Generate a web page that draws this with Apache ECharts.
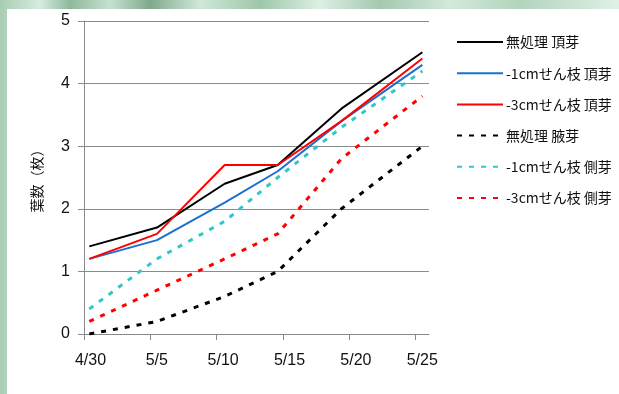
<!DOCTYPE html>
<html>
<head>
<meta charset="utf-8">
<script src="https://cdn.jsdelivr.net/npm/echarts@6/dist/echarts.min.js"></script>
<style>
  html, body { margin: 0; padding: 0; }
  #wrap { position: relative; width: 619px; height: 394px; overflow: hidden;
    background:
      linear-gradient(90deg, #a9ccb3 0px, #d6ece0 40px, #8fb89c 70px, #c6e2cf 110px, #7fa98d 150px, #cfe8d7 200px,
        #9fc6ab 260px, #ddf0e4 320px, #a4c8b0 380px, #d2ead9 450px, #b3d4bd 520px, #dff1e6 619px); }
  #paper { position: absolute; left: 7px; top: 9px; right: 0; bottom: 0; background: #ffffff; }
  #chart { position: absolute; left: 0; top: 0; width: 619px; height: 394px; }
</style>
</head>
<body>
<div id="wrap">
  <div id="paper"></div>
  <div id="chart"></div>
</div>
<script>
// Survey dates: days after 4/30 on which leaves were counted
const surveyDays = [0.4, 5.5, 10.6, 14.6, 19.4, 25.5];
// Axis tick labels, one per 5 days
const tickLabels = ['4/30', '5/5', '5/10', '5/15', '5/20', '5/25'];

// Leaf counts per treatment
const noneApical   = [1.4, 1.7, 2.4, 2.7, 3.6, 4.5];
const cut1Apical   = [1.2, 1.5, 2.1, 2.6, 3.4, 4.3];
const cut3Apical   = [1.2, 1.6, 2.7, 2.7, 3.4, 4.4];
const noneAxillary = [0.0, 0.2, 0.6, 1.0, 2.0, 3.0];
const cut1Lateral  = [0.4, 1.2, 1.8, 2.5, 3.3, 4.2];
const cut3Lateral  = [0.2, 0.7, 1.2, 1.6, 2.8, 3.8];

const seriesDefs = [
  { name: '無処理 頂芽',      values: noneApical,   color: '#000000', dashed: false },
  { name: '-1cmせん枝 頂芽', values: cut1Apical,   color: '#1b6fd3', dashed: false },
  { name: '-3cmせん枝 頂芽', values: cut3Apical,   color: '#ff0000', dashed: false },
  { name: '無処理 腋芽',      values: noneAxillary, color: '#000000', dashed: true },
  { name: '-1cmせん枝 側芽', values: cut1Lateral,  color: '#33c6c9', dashed: true },
  { name: '-3cmせん枝 側芽', values: cut3Lateral,  color: '#ff0000', dashed: true }
];

const chart = echarts.init(document.getElementById('chart'), null, { renderer: 'canvas' });

const series = seriesDefs.map(function (d) {
  return {
    name: d.name,
    type: 'line',
    data: d.values.map(function (v, i) { return [surveyDays[i], v]; }),
    symbol: 'none',
    color: d.color,
    lineStyle: d.dashed
      ? { color: d.color, width: 3, type: [5, 7] }
      : { color: d.color, width: 2, type: 'solid' },
    z: d.dashed ? 2 : 3,
    animation: false
  };
});

chart.setOption({
  backgroundColor: 'transparent',
  animation: false,
  grid: { left: 84, right: 190, top: 21, bottom: 60 },
  legend: {
    orient: 'vertical',
    left: 456,
    top: 35,
    padding: 0,
    itemWidth: 46,
    itemHeight: 14,
    itemGap: 17.2,
    itemStyle: { opacity: 0 },
    textStyle: { fontFamily: 'Noto Sans CJK JP', fontSize: 14, lineHeight: 14, color: '#111', padding: [0, 0, 0, -2] },
    data: seriesDefs.map(function (d) { return d.name; })
  },
  xAxis: {
    type: 'value',
    min: 0,
    max: 26,
    interval: 5,
    axisLine: { show: true, lineStyle: { color: '#8a8a8a', width: 1 } },
    axisTick: { show: true, length: 6, lineStyle: { color: '#8a8a8a' } },
    splitLine: { show: false },
    axisLabel: {
      margin: 19,
      fontFamily: 'Liberation Sans',
      fontSize: 16,
      color: '#111',
      padding: [0, 0, 0, 13],
      showMaxLabel: false,
      formatter: function (v) { return tickLabels[Math.round(v / 5)] || ''; }
    }
  },
  yAxis: {
    type: 'value',
    min: 0,
    max: 5,
    interval: 1,
    name: '葉数（枚）',
    nameLocation: 'middle',
    nameRotate: 90,
    nameGap: 40,
    nameTextStyle: { fontFamily: 'Noto Sans CJK JP', fontSize: 14, color: '#111' },
    axisLine: { show: true, lineStyle: { color: '#8a8a8a', width: 1 } },
    axisTick: { show: true, length: 6, lineStyle: { color: '#8a8a8a' } },
    splitLine: { show: true, lineStyle: { color: '#8c8c8c', width: 1 } },
    axisLabel: { margin: 14, fontFamily: 'Liberation Sans', fontSize: 16, color: '#111' }
  },
  series: series
});
</script>
</body>
</html>
